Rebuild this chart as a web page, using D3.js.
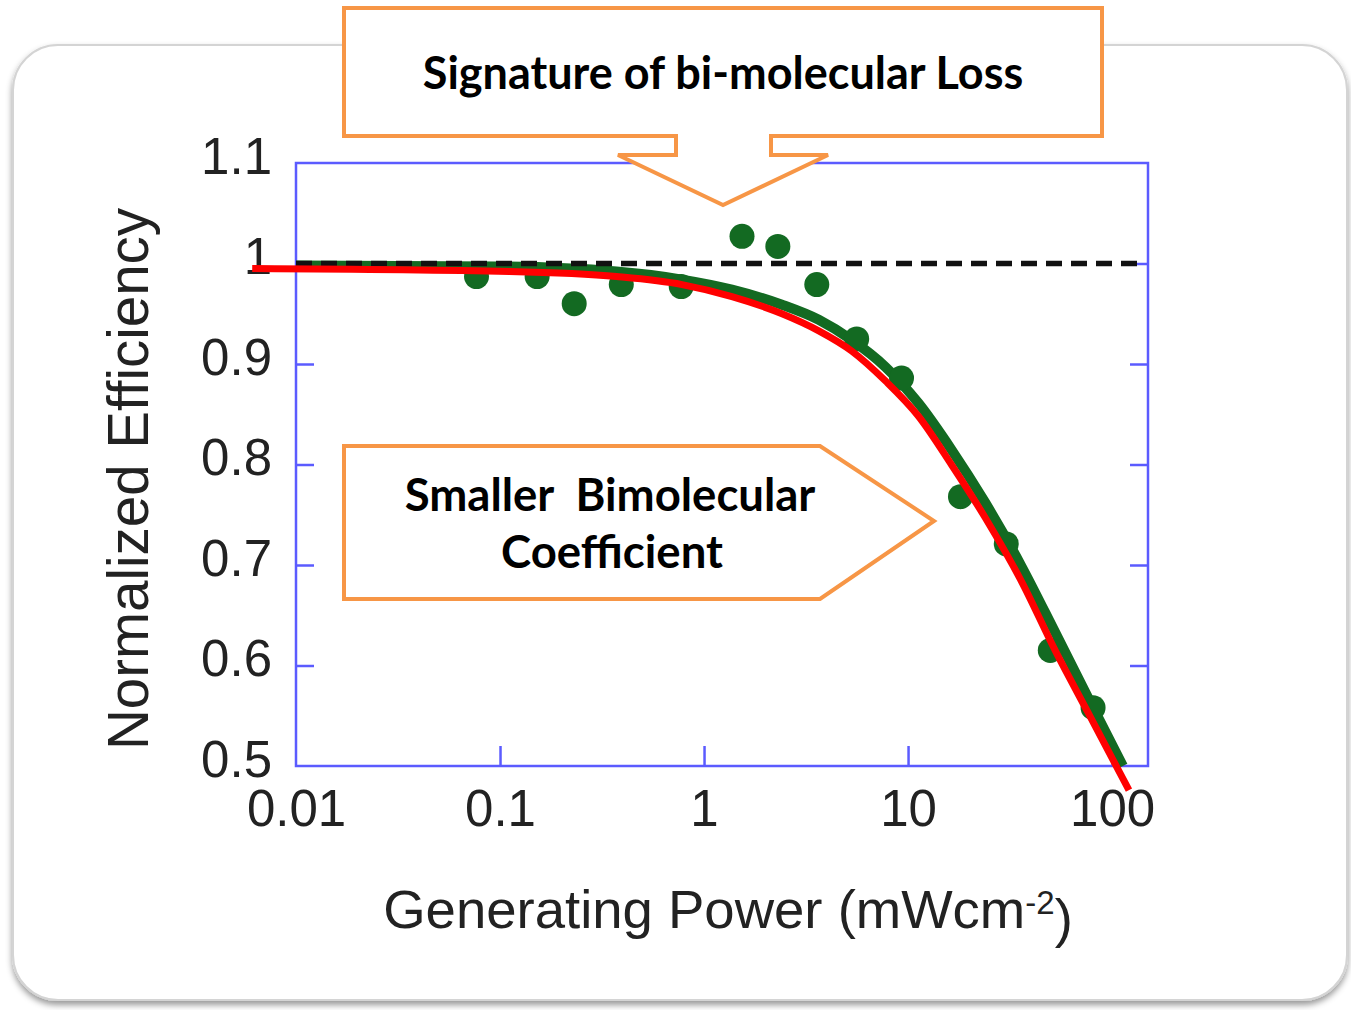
<!DOCTYPE html>
<html>
<head>
<meta charset="utf-8">
<script src="https://cdn.jsdelivr.net/npm/d3@7"></script>
<style>
  body { margin: 0; background: #fff; }
  svg { display: block; }
</style>
</head>
<body>
<div id="chart"></div>
<script>
// values
const dotPower = [0.0767, 0.152, 0.231, 0.393, 0.773, 1.535, 2.30, 3.57, 5.60, 9.29, 18.07, 30.3, 49.8, 80.7];
const dotEff   = [0.987, 0.987, 0.960, 0.979, 0.977, 1.027, 1.017, 0.979, 0.925, 0.886, 0.768, 0.721, 0.615, 0.558];

// green fit curve
const fitPower = [0.01, 0.1, 0.372, 0.78, 1.37, 2.41, 3.65, 5.29, 7.76, 11.25, 16.3, 23.9, 35.9, 52.6, 76.3, 113];
const fitEff   = [0.998, 0.997, 0.992, 0.984, 0.974, 0.959, 0.944, 0.924, 0.897, 0.861, 0.815, 0.762, 0.699, 0.633, 0.568, 0.5];

// red overlay curve (runs past the axes)
const redPower = [0.0061, 0.111, 0.372, 0.78, 1.37, 2.41, 3.65, 5.29, 7.76, 11.25, 16.3, 23.9, 35.9, 52.6, 76.3, 121];
const redEff   = [0.995, 0.992, 0.987, 0.979, 0.967, 0.950, 0.933, 0.913, 0.883, 0.848, 0.800, 0.747, 0.684, 0.615, 0.553, 0.476];

const xTicks = [0.01, 0.1, 1, 10, 100];
const xTickLabels = ["0.01", "0.1", "1", "10", "100"];
const yTicks = [0.5, 0.6, 0.7, 0.8, 0.9, 1, 1.1];
const yTickLabels = ["0.5", "0.6", "0.7", "0.8", "0.9", "1", "1.1"];
const refLevel = 1.0;

const W = 1351, H = 1010;
const plot = {left: 296, right: 1148, top: 163, bottom: 766};

const svg = d3.select("#chart")
  .append("svg")
    .attr("width", W)
    .attr("height", H);

// soft shadow for the rounded panel
const defs = svg.append("defs");
const f = defs.append("filter").attr("id", "shadow")
    .attr("x", "-5%").attr("y", "-5%").attr("width", "110%").attr("height", "112%");
f.append("feDropShadow")
    .attr("dx", 0).attr("dy", 4).attr("stdDeviation", 3)
    .attr("flood-color", "#000").attr("flood-opacity", 0.4);

svg.append("rect")
    .attr("x", 13).attr("y", 45)
    .attr("width", 1334).attr("height", 955)
    .attr("rx", 45).attr("ry", 45)
    .attr("fill", "#fff")
    .attr("stroke", "#d4d4d4")
    .attr("stroke-width", 2)
    .attr("filter", "url(#shadow)");

const x = d3.scaleLog()
    .domain([0.01, 150])
    .range([plot.left, plot.right]);

const y = d3.scaleLinear()
    .domain([0.5, 1.1])
    .range([plot.bottom, plot.top]);

const blue = "#5b5bff";
const tickFont = "'Liberation Sans', Arial, sans-serif";

// frame
svg.append("rect")
    .attr("x", plot.left).attr("y", plot.top)
    .attr("width", plot.right - plot.left)
    .attr("height", plot.bottom - plot.top)
    .attr("fill", "none")
    .attr("stroke", blue)
    .attr("stroke-width", 2.5);

// left axis (ticks point inward)
const yLabel = d3.scaleOrdinal().domain(yTicks).range(yTickLabels);
const leftAxis = svg.append("g")
    .attr("transform", "translate(" + plot.left + ",0)")
    .call(d3.axisLeft(y).tickValues(yTicks).tickSize(-18).tickPadding(24)
        .tickFormat(d => yLabel(d)));

// right axis ticks
const rightAxis = svg.append("g")
    .attr("transform", "translate(" + plot.right + ",0)")
    .call(d3.axisRight(y).tickValues(yTicks).tickSize(-18).tickFormat(""));

// bottom axis
const xLabel = d3.scaleOrdinal().domain(xTicks).range(xTickLabels);
const bottomAxis = svg.append("g")
    .attr("transform", "translate(0," + plot.bottom + ")")
    .call(d3.axisBottom(x).tickValues(xTicks).tickSize(-20).tickPadding(24)
        .tickFormat(d => xLabel(d)));

[leftAxis, rightAxis, bottomAxis].forEach(g => {
  g.select(".domain").remove();
  g.selectAll(".tick line").attr("stroke", blue).attr("stroke-width", 2.5);
  g.selectAll(".tick text")
    .attr("fill", "#222")
    .style("font-family", tickFont)
    .style("font-size", "51px");
});
leftAxis.selectAll(".tick text").attr("dy", "0.2em");
leftAxis.selectAll(".tick").filter(d => d === 0.5 || d === 1.1).select("line").remove();
rightAxis.selectAll(".tick").filter(d => d === 0.5 || d === 1.1).select("line").remove();
bottomAxis.selectAll(".tick").filter(d => d === 0.01).select("line").remove();

// green fit curve
const fitData = fitPower.map((p, i) => [p, fitEff[i]]);
const redData = redPower.map((p, i) => [p, redEff[i]]);

const line = d3.line()
    .x(d => x(d[0]))
    .y(d => y(d[1]))
    .curve(d3.curveMonotoneX);

svg.append("path")
    .datum(fitData)
    .attr("fill", "none")
    .attr("stroke", "#136a22")
    .attr("stroke-width", 10)
    .attr("d", line);

// measured points
svg.selectAll("circle.pt")
    .data(dotPower.map((p, i) => [p, dotEff[i]]))
    .enter()
    .append("circle")
    .attr("class", "pt")
    .attr("cx", d => x(d[0]))
    .attr("cy", d => y(d[1]))
    .attr("r", 12.5)
    .attr("fill", "#136a22");

// dashed reference at 1
svg.append("line")
    .attr("x1", plot.left).attr("x2", plot.right - 10)
    .attr("y1", y(refLevel)).attr("y2", y(refLevel))
    .attr("stroke", "#111")
    .attr("stroke-width", 5.5)
    .attr("stroke-dasharray", "16 9");

// red curve on top
svg.append("path")
    .datum(redData)
    .attr("fill", "none")
    .attr("stroke", "#ff0000")
    .attr("stroke-width", 7)
    .attr("d", line);

// axis titles
svg.append("text")
    .attr("x", 728).attr("y", 928)
    .attr("text-anchor", "middle")
    .attr("fill", "#222")
    .style("font-family", tickFont)
    .style("font-size", "54.5px")
    .call(t => {
      t.append("tspan").text("Generating Power (mWcm");
      t.append("tspan").attr("dy", "-0.42em").style("font-size", "33px").text("-2");
      t.append("tspan").attr("dy", "0.42em").text(")");
    });

svg.append("text")
    .attr("transform", "translate(148,479) rotate(-90)")
    .attr("text-anchor", "middle")
    .attr("fill", "#222")
    .style("font-family", tickFont)
    .style("font-size", "56.5px")
    .text("Normalized Efficiency");

// callouts
const orange = "#f79646";
const calloutFont = "Lato, 'Open Sans', sans-serif";

svg.append("path")
    .attr("d", "M344,8 H1102 V136 H771 V155 H828 L723,205 L618,155 H676 V136 H344 Z")
    .attr("fill", "#fff")
    .attr("stroke", orange)
    .attr("stroke-width", 4)
    .attr("stroke-linejoin", "miter");

svg.append("text")
    .attr("x", 723).attr("y", 89)
    .attr("text-anchor", "middle")
    .style("font-family", calloutFont)
    .style("font-weight", "bold")
    .style("font-size", "45px")
    .text("Signature of bi-molecular Loss");

svg.append("path")
    .attr("d", "M344,446 H820 L934,521 L820,599 H344 Z")
    .attr("fill", "#fff")
    .attr("stroke", orange)
    .attr("stroke-width", 4);

svg.append("text")
    .attr("x", 610).attr("y", 511)
    .attr("text-anchor", "middle")
    .style("font-family", calloutFont)
    .style("font-weight", "bold")
    .style("font-size", "45.5px")
    .style("white-space", "pre")
    .text("Smaller  Bimolecular");

svg.append("text")
    .attr("x", 612).attr("y", 568)
    .attr("text-anchor", "middle")
    .style("font-family", calloutFont)
    .style("font-weight", "bold")
    .style("font-size", "45.5px")
    .text("Coefficient");
</script>
</body>
</html>
